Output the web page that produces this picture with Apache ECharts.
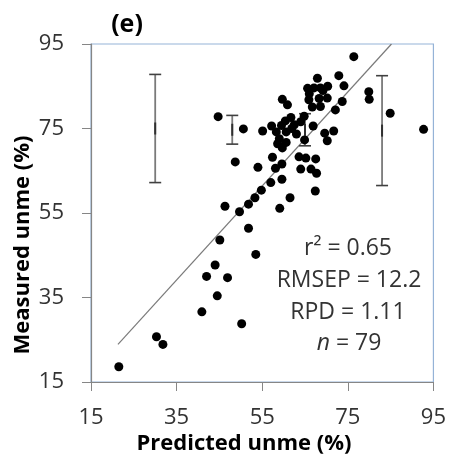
<!DOCTYPE html>
<html>
<head>
<meta charset="utf-8">
<script src="https://cdn.jsdelivr.net/npm/echarts@6/dist/echarts.min.js"></script>
<style>html,body{margin:0;padding:0;background:#fff;}#c{width:449px;height:457px;}</style>
</head>
<body>
<div id="c"></div>
<script>
// Data
var predicted = [21.5,30.3,31.8,40.9,50.2,44.5,42.0,46.9,44.0,45.1,53.5,51.8,46.3,49.7,51.8,53.3,54.8,57.0,59.1,59.6,61.5,67.4,48.7,54.0,57.4,58.1,59.6,63.6,65.2,67.5,64.0,66.4,67.7,
  44.7,50.6,55.1,57.2,59.5,61.7,62.5,64.8,66.9,60.6,63.0,59.0,60.6,58.6,64.9,69.6,71.7,70.2,
  59.7,60.9,65.9,68.3,70.2,66.7,68.6,72.1,73.7,65.6,67.1,68.6,70.3,67.9,72.9,74.1,76.4,79.9,80.0,84.9,92.7,
  59.7,61.9,58.3,69.2,66.0,60.4,64.0];
var measured = [18.6,25.7,23.9,31.6,28.8,35.4,40.0,39.7,42.7,48.6,45.2,51.4,56.6,55.3,57.1,58.6,60.4,62.2,56.1,63.0,58.6,60.2,67.1,65.8,68.2,65.6,66.6,68.3,68.0,67.8,65.4,65.4,64.4,
  77.8,74.9,74.4,75.6,75.7,77.6,75.9,77.9,75.6,74.2,73.7,72.6,71.7,71.4,72.3,73.9,74.4,72.1,
  81.9,80.6,81.8,82.1,82.2,80.1,80.2,79.4,81.4,84.5,84.6,84.6,85.0,86.9,87.5,85.1,92.0,83.7,81.9,78.6,74.8,
  70.4,75.0,74.2,84.0,83.2,76.8,76.6];
var fitX = [21.3, 85.2];
var fitY = [23.9, 95.0];
var errX = [30, 48, 65, 83];
var errMean = [75.0, 74.7, 74.7, 74.5];
var errHalf = [12.8, 3.4, 3.8, 13.0];
var xTicks = [15, 35, 55, 75, 95];
var yTicks = [15, 35, 55, 75, 95];

var points = predicted.map(function (x, i) { return [x, measured[i]]; });
var fitLine = fitX.map(function (x, i) { return [x, fitY[i]]; });
var errData = errX.map(function (x, i) { return [x, errMean[i], errMean[i] - errHalf[i], errMean[i] + errHalf[i]]; });

var chart = echarts.init(document.getElementById('c'), null, {renderer: 'canvas'});
var labelFont = {fontFamily: 'Open Sans', fontSize: 22, color: '#333'};
chart.setOption({
  animation: false,
  grid: {left: 91, right: 14, top: 44, bottom: 75, show: true, borderColor: '#95B3D7', borderWidth: 1.2, backgroundColor: 'transparent'},
  xAxis: {
    type: 'value', min: 15, max: 95,
    axisLine: {show: true, lineStyle: {color: '#868686', width: 1.2}},
    axisTick: {show: true, inside: false, length: 9, lineStyle: {color: '#868686'}, customValues: xTicks},
    axisLabel: Object.assign({margin: 25, customValues: xTicks}, labelFont),
    splitLine: {show: false}
  },
  yAxis: {
    type: 'value', min: 15, max: 95,
    axisLine: {show: true, lineStyle: {color: '#868686', width: 1.2}},
    axisTick: {show: true, inside: false, length: 9, lineStyle: {color: '#868686'}, customValues: yTicks},
    axisLabel: Object.assign({margin: 27, customValues: yTicks}, labelFont),
    splitLine: {show: false}
  },
  series: [
    {
      type: 'line', data: fitLine, symbol: 'none', silent: true,
      lineStyle: {color: '#7a7a7a', width: 1.2}, z: 2
    },
    {
      type: 'custom', data: errData, z: 3,
      renderItem: function (params, api) {
        var x = api.value(0);
        var c = api.coord([x, api.value(1)]);
        var lo = api.coord([x, api.value(2)]);
        var hi = api.coord([x, api.value(3)]);
        var w = 6;
        return {
          type: 'group',
          children: [
            {type: 'line', shape: {x1: lo[0], y1: lo[1], x2: hi[0], y2: hi[1]}, style: {stroke: '#7a7a7a', lineWidth: 1.8}},
            {type: 'line', shape: {x1: lo[0] - w, y1: lo[1], x2: lo[0] + w, y2: lo[1]}, style: {stroke: '#404040', lineWidth: 1.6}},
            {type: 'line', shape: {x1: hi[0] - w, y1: hi[1], x2: hi[0] + w, y2: hi[1]}, style: {stroke: '#404040', lineWidth: 1.6}},
            {type: 'line', shape: {x1: c[0], y1: c[1] - 6, x2: c[0], y2: c[1] + 6}, style: {stroke: '#303030', lineWidth: 2}}
          ]
        };
      }
    },
    {
      type: 'scatter', data: points, symbol: 'circle', symbolSize: 9,
      itemStyle: {color: '#000', opacity: 1}, z: 4
    }
  ],
  graphic: [
    {type: 'text', x: 127, y: 25, style: {text: '(e)', font: 'bold 25px "Open Sans"', fill: '#000', textAlign: 'center', textVerticalAlign: 'middle'}},
    {type: 'text', x: 244, y: 444, style: {text: 'Predicted unme (%)', font: 'bold 22px "Open Sans"', fill: '#000', textAlign: 'center', textVerticalAlign: 'middle'}},
    {type: 'text', x: 23, y: 245, rotation: Math.PI / 2, style: {text: 'Measured unme (%)', font: 'bold 22px "Open Sans"', fill: '#000', textAlign: 'center', textVerticalAlign: 'middle'}},
    {type: 'text', x: 348, y: 248, style: {text: 'r\u00b2 = 0.65', font: '23px "Open Sans"', fill: '#333', textAlign: 'center', textVerticalAlign: 'middle'}},
    {type: 'text', x: 349, y: 280, style: {text: 'RMSEP = 12.2', font: '23px "Open Sans"', fill: '#333', textAlign: 'center', textVerticalAlign: 'middle'}},
    {type: 'text', x: 348, y: 312, style: {text: 'RPD = 1.11', font: '23px "Open Sans"', fill: '#333', textAlign: 'center', textVerticalAlign: 'middle'}},
    {type: 'text', x: 349, y: 343, style: {
      text: '{i|n} = 79', font: '23px "Open Sans"', fill: '#333', textAlign: 'center', textVerticalAlign: 'middle',
      rich: {i: {fontStyle: 'italic', fontFamily: 'Open Sans', fontSize: 23, fill: '#333'}}
    }}
  ]
});
</script>
</body>
</html>
